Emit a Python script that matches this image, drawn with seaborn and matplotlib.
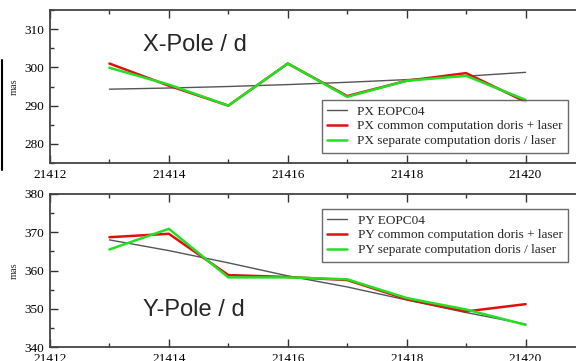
import pandas as pd
import numpy as np
import seaborn as sns
import matplotlib.pyplot as plt
from matplotlib.ticker import MultipleLocator
from matplotlib.lines import Line2D

sns.set_style("white")
plt.rcParams['font.family'] = ['Liberation Serif', 'DejaVu Serif']

days = [21413, 21414, 21415, 21416, 21417, 21418, 21419, 21420]

px_eop = [294.3, 294.6, 295.0, 295.5, 296.1, 296.8, 297.7, 298.7]
px_common = [301.0, 295.2, 290.0, 301.0, 292.5, 296.5, 298.5, 291.0]
px_separate = [299.9, 295.5, 290.0, 301.0, 292.3, 296.5, 297.8, 291.5]

py_eop = [368.0, 365.2, 362.0, 358.6, 355.7, 352.3, 349.0, 346.0]
py_common = [368.7, 369.6, 358.8, 358.3, 357.5, 352.5, 349.3, 351.2]
py_separate = [365.5, 370.9, 358.2, 358.2, 357.7, 352.8, 349.8, 345.8]

series = ["EOPC04", "common computation doris + laser", "separate computation doris / laser"]
colors = ["#555555", "#e01010", "#22e022"]
widths = [1.0, 1.8, 1.8]


def panel(ax, prefix, values, ylim, legend_anchor, label):
    rows = []
    for s, vals in zip(series, values):
        for d, v in zip(days, vals):
            rows.append({"day": d, "value": v, "series": f"{prefix} {s}"})
    df = pd.DataFrame(rows)
    names = [f"{prefix} {s}" for s in series]
    sns.lineplot(data=df, x="day", y="value", hue="series", size="series",
                 hue_order=names, size_order=names,
                 palette=dict(zip(names, colors)), sizes=dict(zip(names, widths)),
                 ax=ax, legend=False)
    ax.set_xlim(21412, 21421)
    ax.set_ylim(*ylim)
    ax.xaxis.set_major_locator(MultipleLocator(2))
    ax.xaxis.set_minor_locator(MultipleLocator(1))
    ax.yaxis.set_major_locator(MultipleLocator(10))
    ax.yaxis.set_minor_locator(MultipleLocator(5))
    ax.xaxis.set_major_formatter(plt.FuncFormatter(lambda v, p: f"{int(v)}"))
    ax.tick_params(which="both", direction="in", top=True, right=True,
                   bottom=True, left=True,
                   labelsize=9.5, colors="#333333", labelcolor="black", pad=4)
    ax.tick_params(which="major", length=6, width=1)
    ax.tick_params(which="minor", length=3, width=1)
    for sp in ax.spines.values():
        sp.set_linewidth(1.3)
        sp.set_color("#444444")
    ax.set_xlabel("")
    ax.set_ylabel("mas", fontsize=7.5, labelpad=4)
    handles = [Line2D([], [], color=c, lw=w if w > 1 else 1.0) for c, w in zip(colors, widths)]
    leg = ax.legend(handles, names, loc="upper right", bbox_to_anchor=legend_anchor,
                    bbox_transform=ax.figure.transFigure, borderaxespad=0,
                    fontsize=9.5, frameon=True, fancybox=False, handlelength=1.5,
                    borderpad=0.4, labelspacing=0.2, handletextpad=0.8)
    leg.get_frame().set_edgecolor("#444444")
    leg.get_frame().set_linewidth(1.0)
    ax.figure.text(label[0], label[1], label[2], fontsize=17, family="Liberation Sans",
                   ha="left", va="center")


fig = plt.figure(figsize=(5.76, 3.61), dpi=100)
ax1 = fig.add_axes([50 / 576, 1 - 163 / 361, 535 / 576, 153 / 361])
ax2 = fig.add_axes([50 / 576, 1 - 347 / 361, 535 / 576, 153 / 361])

panel(ax1, "PX", [px_eop, px_common, px_separate], (275, 315),
      (568 / 576, 1 - 100 / 361), (143 / 576, 1 - 45 / 361, "X-Pole / d"))
panel(ax2, "PY", [py_eop, py_common, py_separate], (340, 380),
      (568 / 576, 1 - 209 / 361), (143 / 576, 1 - 310 / 361, "Y-Pole / d"))

fig.add_artist(Line2D([1.5 / 576, 1.5 / 576], [1 - 60 / 361, 1 - 170 / 361],
                      color="black", lw=1.5, transform=fig.transFigure))

fig.savefig("out.png", dpi=100)
